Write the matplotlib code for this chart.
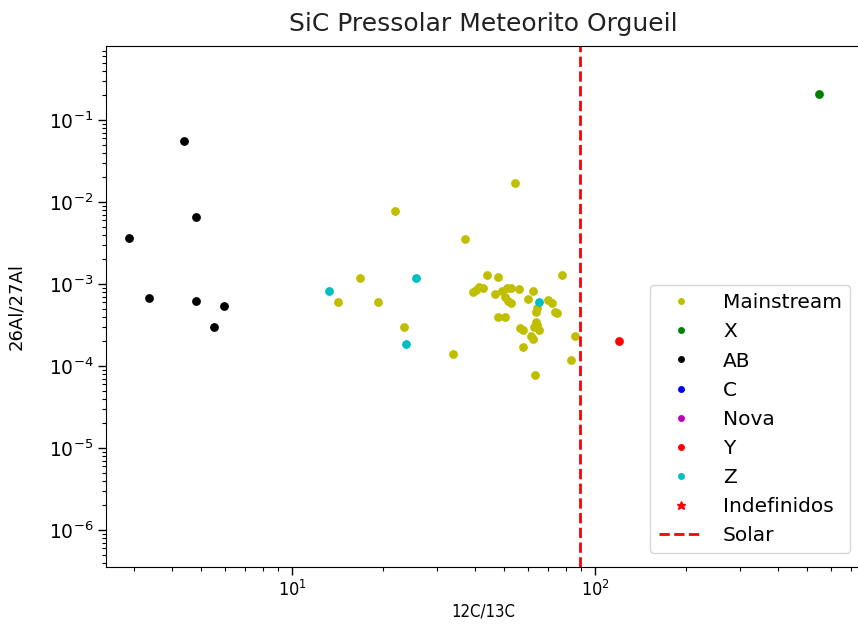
import matplotlib
matplotlib.use("Agg")
import matplotlib.pyplot as plt

# Mainstream grains
ms_ratio_c = [54.2, 21.9, 37.3, 16.7, 14.2, 19.2, 23.4, 34.0, 78.0, 86.1,
              83.4, 63.2, 57.9, 44.0, 47.8, 39.5, 40.5, 41.5, 42.5, 46.6,
              49.2, 51.2, 52.9, 56.1, 50.5, 51.5, 52.9, 62.4, 60.1, 70.1,
              72.3, 73.8, 74.8, 64.1, 63.8, 63.8, 64.1, 63.0, 65.5, 47.8,
              50.5, 56.5, 57.7, 61.4, 62.5]
ms_ratio_al = [1.71e-2, 7.76e-3, 3.54e-3, 1.18e-3, 6.0e-4, 6.0e-4, 3.0e-4, 1.41e-4, 1.28e-3, 2.34e-4,
               1.19e-4, 7.8e-5, 1.71e-4, 1.29e-3, 1.23e-3, 7.9e-4, 8.45e-4, 9.1e-4, 8.9e-4, 7.5e-4,
               8.3e-4, 8.9e-4, 9.0e-4, 8.6e-4, 6.9e-4, 6.25e-4, 5.8e-4, 8.3e-4, 6.56e-4, 6.4e-4,
               5.8e-4, 4.5e-4, 4.4e-4, 5.05e-4, 4.6e-4, 3.47e-4, 3.16e-4, 2.97e-4, 2.75e-4, 3.93e-4,
               3.93e-4, 2.89e-4, 2.75e-4, 2.32e-4, 2.11e-4]

# X grains
x_ratio_c = [550.0]
x_ratio_al = [0.206]

# AB grains
ab_ratio_c = [4.41, 4.80, 2.90, 3.38, 4.80, 5.98, 5.52]
ab_ratio_al = [0.056, 6.62e-3, 3.67e-3, 6.8e-4, 6.25e-4, 5.4e-4, 2.99e-4]

# C and Nova grains (none measured)
c_ratio_c, c_ratio_al = [], []
nova_ratio_c, nova_ratio_al = [], []

# Y grains
y_ratio_c = [120.0]
y_ratio_al = [2.02e-4]

# Z grains
z_ratio_c = [13.2, 25.6, 23.7, 65.2]
z_ratio_al = [8.28e-4, 1.18e-3, 1.87e-4, 5.98e-4]

# Indefinidos (none)
ind_ratio_c, ind_ratio_al = [], []

solar_ratio_c = 89

fig = plt.figure(figsize=(8.58, 6.31), dpi=100)
ax = fig.add_axes([0.1235, 0.1019, 0.8785, 0.8252])

ms = 5.3
ax.plot(ms_ratio_c, ms_ratio_al, "yo", markersize=ms, label="Mainstream")
ax.plot(x_ratio_c, x_ratio_al, "go", markersize=ms, label="X")
ax.plot(ab_ratio_c, ab_ratio_al, "ko", markersize=ms, label="AB")
ax.plot(c_ratio_c, c_ratio_al, "bo", markersize=ms, label="C")
ax.plot(nova_ratio_c, nova_ratio_al, "mo", markersize=ms, label="Nova")
ax.plot(y_ratio_c, y_ratio_al, "ro", markersize=ms, label="Y")
ax.plot(z_ratio_c, z_ratio_al, "co", markersize=ms, label="Z")
ax.plot(ind_ratio_c, ind_ratio_al, "r*", markersize=ms * 1.6, label="Indefinidos")
ax.axvline(solar_ratio_c, color="r", linestyle="--", linewidth=2, label="Solar")

ax.set_xscale("log")
ax.set_yscale("log")
ax.set_xlim(2.43, 747)
ax.set_ylim(3.56e-7, 0.798)

ax.tick_params(which="major", length=5.5, width=1)
ax.tick_params(which="minor", length=3, width=0.8)
ax.tick_params(axis="y", labelsize=13.5)
ax.tick_params(axis="x", labelsize=13, pad=4)
for lbl in ax.get_xticklabels():
    lbl.set_fontstretch("condensed")

ax.set_title("SiC Pressolar Meteorito Orgueil", fontsize=18, pad=11, color="#222222")
ax.set_xlabel("12C/13C", fontsize=12, fontstretch="condensed", labelpad=2)
ax.set_ylabel("26Al/27Al", fontsize=13, labelpad=17)

ax.legend(loc="lower right", bbox_to_anchor=(850 / 858, 1 - 553 / 631),
          bbox_transform=fig.transFigure, borderaxespad=0,
          fontsize=14.5, markerscale=0.75, handlelength=2.2, handletextpad=1.0)

fig.savefig("out.png", dpi=100)
